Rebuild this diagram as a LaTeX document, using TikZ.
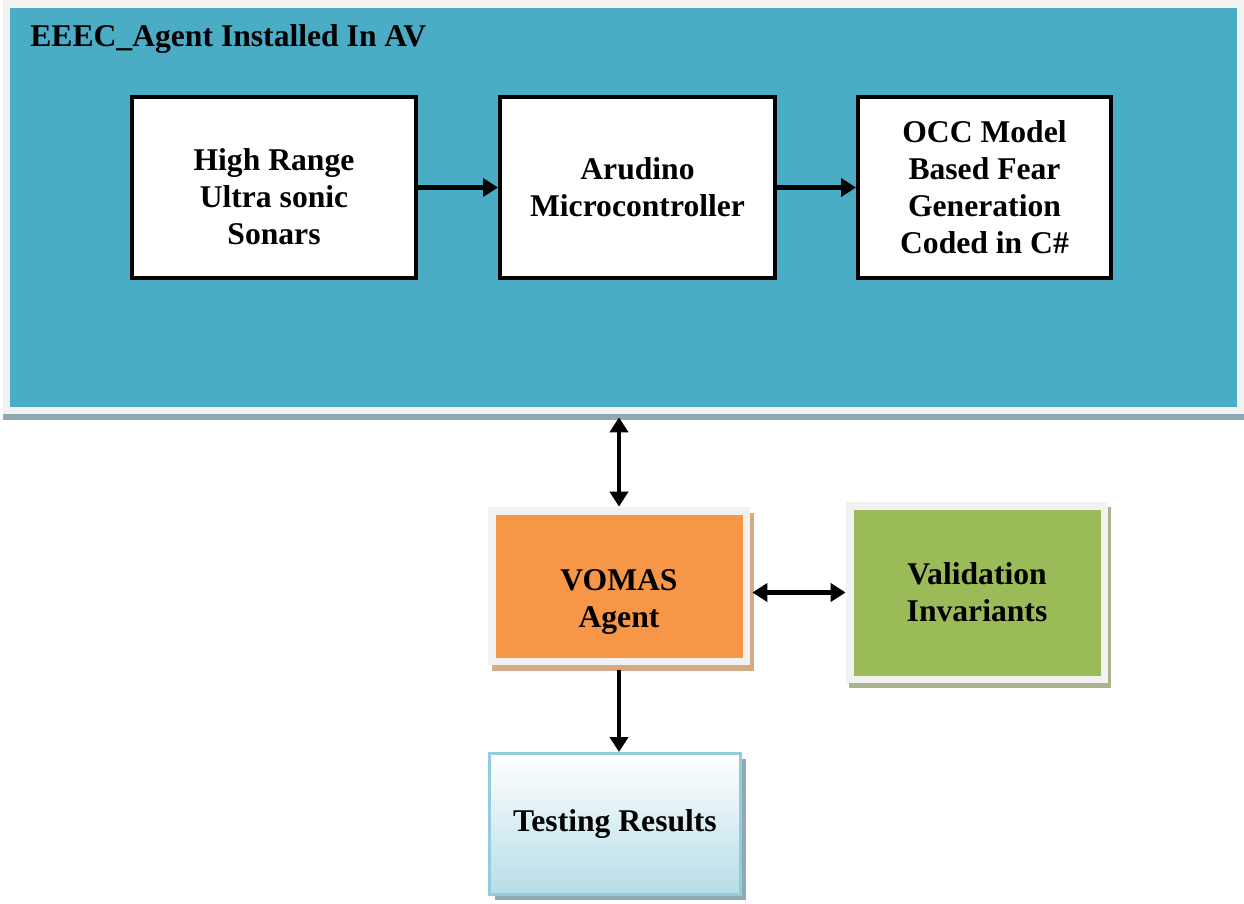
\documentclass[tikz,border=0pt]{standalone}
\usepackage{fontspec}
\setmainfont{Liberation Serif}
\usetikzlibrary{arrows.meta,shadows}

\definecolor{avteal}{HTML}{4BACC6}
\definecolor{framegray}{HTML}{F2F2F2}
\definecolor{panelshadow}{HTML}{8FAAB5}
\definecolor{vomasorange}{HTML}{F79646}
\definecolor{vomasshadow}{HTML}{D4AB86}
\definecolor{invgreen}{HTML}{9BBB59}
\definecolor{invshadow}{HTML}{A9B48E}
\definecolor{testborder}{HTML}{93CDDD}
\definecolor{testblue}{HTML}{B6DDE8}

% text set lower in its box, box size kept
\newcommand\lowtext[2]{\raisebox{-#1}[\height][\depth]{\begin{tabular}{@{}c@{}}#2\end{tabular}}}

\begin{document}
\begin{tikzpicture}[
    font=\fontsize{18}{21}\selectfont\bfseries,
    block/.style={draw=black, line width=0.08cm, fill=white, align=center, inner sep=0pt},
    framed/.style={fill=framegray, inner sep=0pt, align=center,
      path picture={\fill[#1] ([shift={(0.15,-0.15)}]path picture bounding box.north west)
        rectangle ([shift={(-0.15,0.15)}]path picture bounding box.south east);}},
    link/.style={line width=0.09cm, -{Triangle[length=0.3cm,width=0.36cm]}},
    twoway/.style={line width=0.09cm, {Triangle[length=0.3cm,width=0.36cm]}-{Triangle[length=0.3cm,width=0.36cm]}}
  ]
  \useasboundingbox (0,0) rectangle (24.88,-18.06);

  % agent panel
  \node [framed=avteal, minimum width=24.82cm, minimum height=8.28cm,
    drop shadow={shadow xshift=0cm, shadow yshift=-0.12cm, fill=panelshadow, opacity=1}] (av) at (12.47, -4.14) {};
  \node [anchor=west, inner sep=0pt] (avtitle) at (0.6, -0.78) {EEEC\_Agent Installed In AV};

  \node [block, minimum width=5.68cm, minimum height=3.62cm] (sonar) at (5.48, -3.75) {\lowtext{0.26cm}{High Range\\Ultra sonic\\Sonars}};
  \node [block, minimum width=5.5cm, minimum height=3.62cm] (arduino) at (12.75, -3.75) {Arudino\\Microcontroller};
  \node [block, minimum width=5.06cm, minimum height=3.62cm] (occ) at (19.69, -3.75) {OCC Model\\Based Fear\\Generation\\Coded in C\#};

  \draw [link] (sonar) -- (arduino);
  \draw [link] (arduino) -- (occ);

  % validation part
  \node [framed=vomasorange, minimum width=5.24cm, minimum height=3.16cm,
    drop shadow={shadow xshift=0.08cm, shadow yshift=-0.11cm, fill=vomasshadow, opacity=1}] (vomas) at (12.38, -11.72) {\lowtext{0.32cm}{VOMAS\\Agent}};
  \node [framed=invgreen, minimum width=5.24cm, minimum height=3.62cm,
    drop shadow={shadow xshift=0.06cm, shadow yshift=-0.1cm, fill=invshadow, opacity=1}] (invariants) at (19.54, -11.85) {Validation\\Invariants};
  \node [draw=testborder, line width=0.06cm, top color=white, bottom color=testblue, minimum width=5.02cm, minimum height=2.82cm,
    drop shadow={shadow xshift=0.1cm, shadow yshift=-0.1cm, fill=panelshadow, opacity=1}] (testing) at (12.3, -16.48) {Testing Results};

  \draw [twoway] (vomas.north |- av.south) ++(0, -0.06) -- (vomas.north);
  \draw [twoway] (vomas.east |- invariants.west) ++(0.04, 0) -- (invariants.west);
  \draw [link] (vomas.south) ++(0, -0.1) -- (vomas.south |- testing.north);
\end{tikzpicture}
\end{document}
